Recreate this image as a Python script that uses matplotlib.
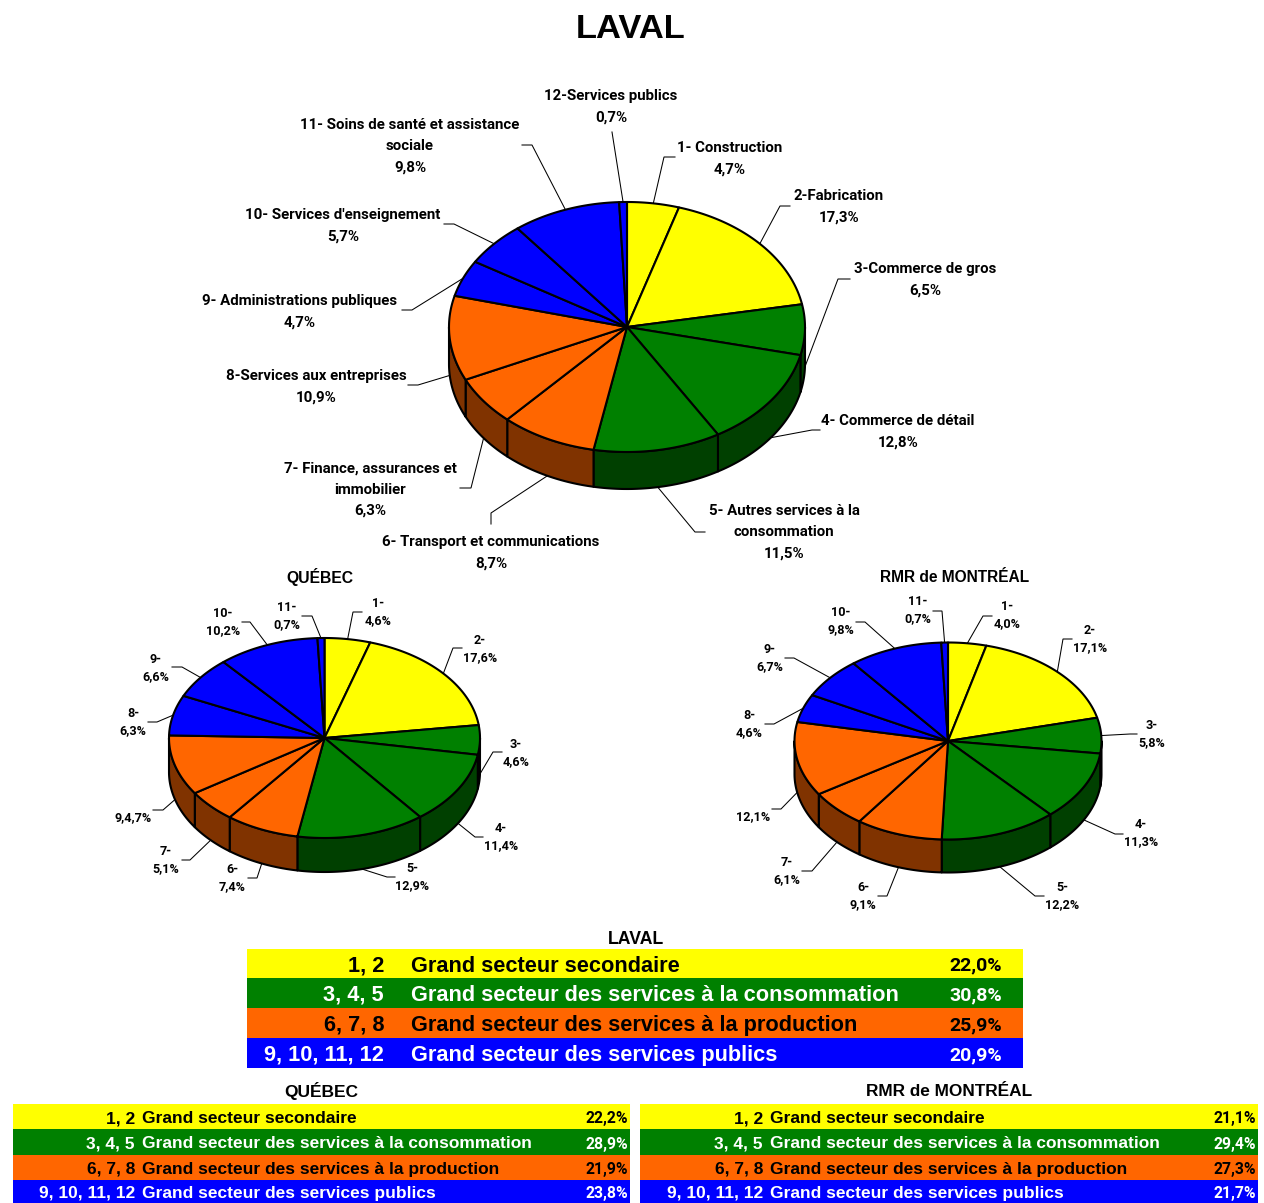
import numpy as np
import matplotlib
matplotlib.use("Agg")
import matplotlib.pyplot as plt
from matplotlib.patches import Polygon, Rectangle

# donnees
laval_vals = [4.7, 17.3, 6.5, 12.8, 11.5, 8.7, 6.3, 10.9, 4.7, 5.7, 9.8, 0.7]
quebec_vals = [4.6, 17.6, 4.6, 11.4, 12.9, 7.4, 5.1, 9.4, 6.3, 6.6, 10.2, 0.7]
montreal_vals = [4.0, 17.1, 5.8, 11.3, 12.2, 9.1, 6.1, 12.1, 4.6, 6.7, 9.8, 0.7]

laval_labels = ["1- Construction\n4,7%", "2-Fabrication\n17,3%", "3-Commerce de gros\n6,5%",
                "4- Commerce de détail\n12,8%", "5- Autres services à la\nconsommation\n11,5%",
                "6- Transport et communications\n8,7%", "7- Finance, assurances et\nimmobilier\n6,3%",
                "8-Services aux entreprises\n10,9%", "9- Administrations publiques\n4,7%",
                "10- Services d'enseignement\n5,7%", "11- Soins de santé et assistance\nsociale\n9,8%",
                "12-Services publics\n0,7%"]
quebec_labels = ["1-\n4,6%", "2-\n17,6%", "3-\n4,6%", "4-\n11,4%", "5-\n12,9%", "6-\n7,4%", "7-\n5,1%",
                 "9,4,7%", "8-\n6,3%", "9-\n6,6%", "10-\n10,2%", "11-\n0,7%"]
montreal_labels = ["1-\n4,0%", "2-\n17,1%", "3-\n5,8%", "4-\n11,3%", "5-\n12,2%", "6-\n9,1%", "7-\n6,1%",
                   "12,1%", "8-\n4,6%", "9-\n6,7%", "10-\n9,8%", "11-\n0,7%"]

group_nums = ["1, 2", "3, 4, 5", "6, 7, 8", "9, 10, 11, 12"]
group_names = ["Grand secteur secondaire", "Grand secteur des services à la consommation",
               "Grand secteur des services à la production", "Grand secteur des services publics"]
laval_groups = ["22,0%", "30,8%", "25,9%", "20,9%"]
quebec_groups = ["22,2%", "28,9%", "21,9%", "23,8%"]
montreal_groups = ["21,1%", "29,4%", "27,3%", "21,7%"]

# couleurs
group_sizes = [2, 3, 3, 4]
top_colors = ["#FFFF00", "#008000", "#FF6600", "#0000FF"]
side_colors = ["#808000", "#004000", "#803300", "#000080"]
text_colors = ["black", "white", "black", "white"]

# position des etiquettes (centre du texte) et des lignes de rappel
laval_pos = [(730, 158.5), (839, 206.5), (925, 279.5), (898, 431.5), (784, 532.5), (491, 552.5),
             (370, 489.5), (316, 386.5), (300, 311.5), (343, 225.5), (410, 146.5), (611, 107)]
laval_lead = [[(664, 157), (675, 157)], [(780, 206), (790, 206)], [(838, 279), (850, 279)],
              [(812, 430), (820, 430)], [(695, 532), (705, 532)], [(491, 513), (491, 524)],
              [(471, 488), (460, 488)], [(418, 385), (408, 385)], [(412, 310), (402, 310)],
              [(454, 224), (444, 224)], [(532, 145), (522, 145)], [(612, 132)]]
quebec_pos = [(378, 612), (480, 649), (516, 753), (501, 837), (412, 877), (232, 878),
              (166, 860), (133, 818), (133, 722), (156, 668), (223, 622), (287, 616)]
quebec_lead = [[(353, 612), (362, 612)], [(453, 648), (462, 648)], [(493, 752), (502, 752)],
               [(475, 837), (483, 837)], [(387, 877), (395, 877)], [(257, 878), (248, 878)],
               [(190, 860), (182, 860)], [(163, 810), (153, 810)], [(157, 722), (148, 722)],
               [(182, 667), (172, 667)], [(250, 622), (242, 622)], [(312, 616), (302, 616)]]
montreal_pos = [(1007, 615), (1090, 639), (1152, 734), (1141, 833), (1062, 896), (863, 896),
                (787, 871), (753, 817), (749, 724), (770, 658), (841, 621), (918, 610)]
montreal_lead = [[(983, 616), (992, 616)], [(1063, 639), (1072, 639)], [(1130, 734), (1137, 734)],
                 [(1115, 834), (1123, 834)], [(1035, 896), (1044, 896)], [(887, 896), (878, 896)],
                 [(812, 871), (802, 871)], [(781, 809), (772, 809)], [(774, 724), (765, 724)],
                 [(794, 658), (785, 658)], [(865, 622), (856, 622)], [(942, 611), (933, 611)]]

W, H = 1264, 1203
fig = plt.figure(figsize=(W / 100, H / 100), dpi=100)
ax = fig.add_axes([0, 0, 1, 1])
ax.set_xlim(0, W)
ax.set_ylim(H, 0)
ax.axis("off")

slice_groups = np.repeat(np.arange(4), group_sizes)


def ellipse(theta, cx, cy, rx, ry):
    t = np.radians(theta)
    return cx + rx * np.sin(t), cy - ry * np.cos(t)


def pie3d(values, labels, pos, lead, cx, cy, rx, ry, depth, size, spacing):
    edges = np.concatenate(([0], np.cumsum(values))) / np.sum(values) * 360
    # parois avant
    for i in range(len(values)):
        a0, a1 = max(edges[i], 90), min(edges[i + 1], 270)
        if a1 <= a0:
            continue
        x, y = ellipse(np.linspace(a0, a1, 60), cx, cy, rx, ry)
        pts = np.column_stack((np.r_[x, x[::-1]], np.r_[y, y[::-1] + depth]))
        ax.add_patch(Polygon(pts, fc=side_colors[slice_groups[i]], ec="black", lw=1.5, joinstyle="round", zorder=2))
    # dessus
    for i in range(len(values)):
        x, y = ellipse(np.linspace(edges[i], edges[i + 1], 60), cx, cy, rx, ry)
        pts = np.column_stack((np.r_[cx, x], np.r_[cy, y]))
        ax.add_patch(Polygon(pts, fc=top_colors[slice_groups[i]], ec="black", lw=1.5, joinstyle="round", zorder=3))
    # etiquettes
    for i, lab in enumerate(labels):
        mid = (edges[i] + edges[i + 1]) / 2
        x0, y0 = ellipse(mid, cx, cy, rx, ry)
        if 90 < mid < 270:
            y0 += depth
        xs = [x0] + [p[0] for p in lead[i]]
        ys = [y0] + [p[1] for p in lead[i]]
        ax.plot(xs, ys, color="black", lw=0.75, zorder=1, solid_joinstyle="miter")
        ax.text(pos[i][0], pos[i][1], lab, ha="center", va="center", ma="center", family="Roboto",
                weight="bold", stretch="condensed", fontsize=size, linespacing=spacing, color="black")


def table(y_edges, x0, x1, x_num, x_name, x_pct, pct, size, pct_size, dy):
    for i in range(4):
        ax.add_patch(Rectangle((x0, y_edges[i]), x1 - x0, y_edges[i + 1] - y_edges[i], fc=top_colors[i], ec="none"))
        ym = (y_edges[i] + y_edges[i + 1]) / 2 + dy
        for xt, s, ha in ((x_num, group_nums[i], "right"), (x_name, group_names[i], "left")):
            ax.text(xt, ym, s, ha=ha, va="center_baseline", family="Liberation Sans", weight="bold",
                    fontsize=size, color=text_colors[i])
        ax.text(x_pct, ym, pct[i], ha="right", va="center_baseline", family="Roboto", weight="bold",
                stretch="condensed", fontsize=pct_size, color=text_colors[i])


pie3d(laval_vals, laval_labels, laval_pos, laval_lead, 627, 327, 178, 125, 37, 10.8, 1.66)
pie3d(quebec_vals, quebec_labels, quebec_pos, quebec_lead, 324.5, 738, 155.5, 100, 34, 9.1, 1.35)
pie3d(montreal_vals, montreal_labels, montreal_pos, montreal_lead, 948, 741, 153.5, 98.5, 33, 9.1, 1.35)

ax.text(631, 29, "LAVAL", ha="center", va="center", family="Liberation Sans", weight="bold", fontsize=24.8)
ax.text(320, 576.5, "QUÉBEC", ha="center", va="center", family="Liberation Sans", weight="bold", fontsize=11.3)
ax.text(955, 577, "RMR de MONTRÉAL", ha="center", va="center", family="Liberation Sans", weight="bold", fontsize=11.2)
ax.text(636, 939, "LAVAL", ha="center", va="center", family="Liberation Sans", weight="bold", fontsize=12.7)
ax.text(321, 1091, "QUÉBEC", ha="center", va="center", family="Liberation Sans", weight="bold", fontsize=12.5)
ax.text(949, 1092, "RMR de MONTRÉAL", ha="center", va="center", family="Liberation Sans", weight="bold", fontsize=12.4)

table([949, 978, 1008, 1038, 1068], 247, 1023, 384, 411, 1002, laval_groups, 15.65, 14, 0)
table([1104, 1129, 1155, 1180, 1203], 13, 630, 135, 142, 628, quebec_groups, 12.55, 11.3, 0.5)
table([1104, 1129, 1155, 1180, 1203], 640, 1258, 763, 770, 1256, montreal_groups, 12.55, 11.3, 0.5)

fig.savefig("out.png", dpi=100, facecolor="white")
